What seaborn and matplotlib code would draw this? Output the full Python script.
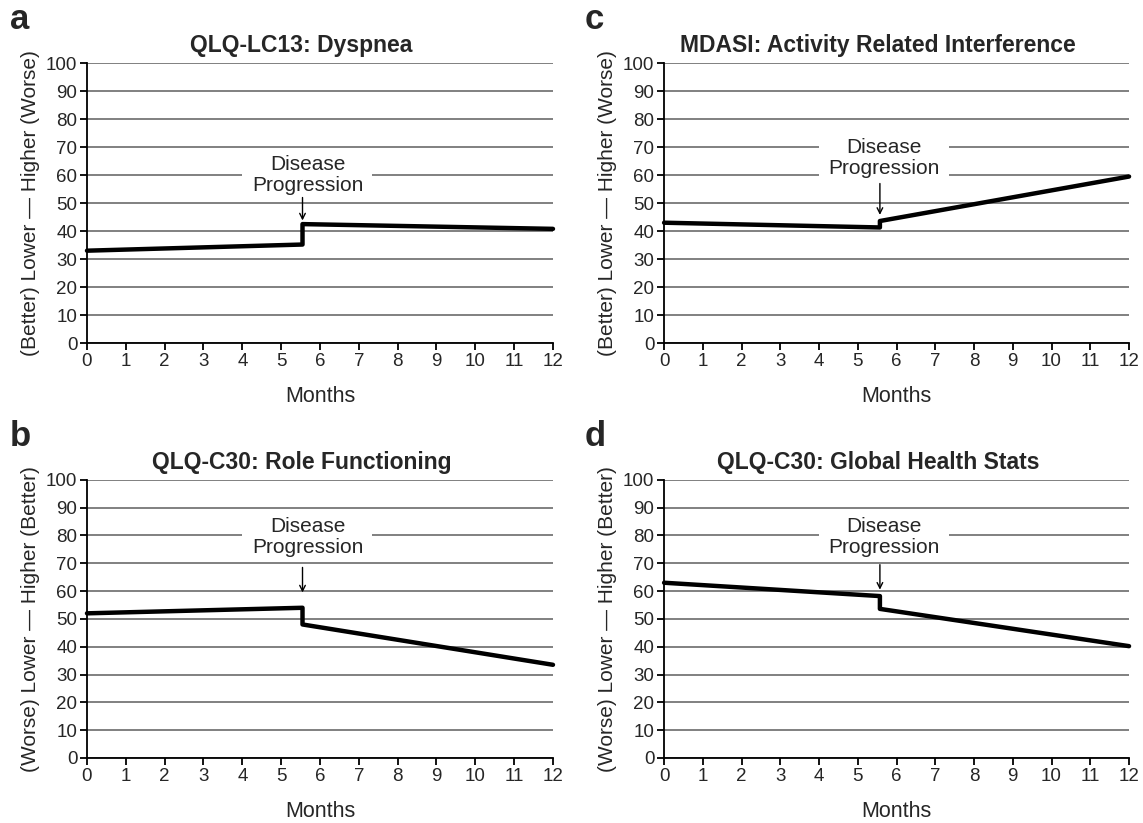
import numpy as np
import pandas as pd
import matplotlib.pyplot as plt
import seaborn as sns
from matplotlib.patches import Rectangle

sns.set_style('white')
plt.rcParams['font.family'] = ['Liberation Sans', 'DejaVu Sans']

# values
months_a = [0, 5.55, 5.55, 12]
dyspnea = [33, 35.2, 42.5, 40.8]

months_c = [0, 5.57, 5.57, 12]
activity = [43, 41.3, 43.6, 59.5]

months_b = [0, 5.55, 5.55, 12]
role = [52, 54, 48, 33.5]

months_d = [0, 5.57, 5.57, 12]
global_health = [63, 58.2, 53.6, 40.2]

titles = ['QLQ-LC13: Dyspnea', 'MDASI: Activity Related Interference',
          'QLQ-C30: Role Functioning', 'QLQ-C30: Global Health Stats']
letters = ['a', 'c', 'b', 'd']
ylabels = ['(Better) Lower \u2014 Higher (Worse)', '(Better) Lower \u2014 Higher (Worse)',
           '(Worse) Lower \u2014 Higher (Better)', '(Worse) Lower \u2014 Higher (Better)']

# label text y, arrow start/end, white box range
label_y = [60, 66, 79.5, 79.5]
arrow_from = [52, 57, 68.5, 69.5]
arrow_to = [43.8, 45.8, 59.5, 60.5]
box_rng = [(52.5, 68), (56.5, 76), (71.5, 88), (71.5, 88)]

series = [(months_a, dyspnea), (months_c, activity), (months_b, role), (months_d, global_health)]

fig = plt.figure(figsize=(11.43, 8.23), dpi=100)
rects = [[0.0761, 0.5832, 0.4077, 0.340],
         [0.581, 0.5832, 0.4068, 0.340],
         [0.0761, 0.079, 0.4077, 0.338],
         [0.581, 0.079, 0.4068, 0.338]]

for i in range(4):
    ax = fig.add_axes(rects[i])
    x, y = series[i]
    df = pd.DataFrame({'Months': x, 'Score': y})
    sns.lineplot(data=df, x='Months', y='Score', sort=False, estimator=None,
                 color='black', linewidth=3.2, ax=ax, clip_on=False, zorder=3)

    ax.set_xlim(0, 12)
    ax.set_ylim(0, 100)
    ax.set_xticks(range(0, 13))
    ax.set_yticks(range(0, 101, 10))
    ax.yaxis.grid(True, color='#5e5e5e', linewidth=1.1)
    ax.xaxis.grid(False)
    ax.set_axisbelow(True)
    for s in ['top', 'right']:
        ax.spines[s].set_visible(False)
    for s in ['left', 'bottom']:
        ax.spines[s].set_color('black')
        ax.spines[s].set_linewidth(1.3)
    ax.tick_params(direction='out', length=5, width=1.3, color='black',
                   labelsize=13.5, pad=2, left=True, bottom=True)

    ax.set_xlabel('Months', fontsize=15.5, labelpad=12)
    ax.set_ylabel(ylabels[i], fontsize=15, labelpad=4)
    ax.set_title(titles[i], fontsize=16.5, fontweight='bold', x=0.46, pad=8,
                 family=['Liberation Sans Narrow', 'Liberation Sans'])
    ax.text(-0.165 if i % 2 == 0 else -0.17, 1.215, letters[i], transform=ax.transAxes,
            fontsize=25, fontweight='bold', va='top', ha='left')

    lo, hi = box_rng[i]
    ax.add_patch(Rectangle((4.0, lo), 3.35, hi - lo, facecolor='white',
                           edgecolor='none', zorder=1))
    ax.text(5.68, label_y[i], 'Disease\nProgression', ha='center', va='center',
            fontsize=15, linespacing=1.15, zorder=4)
    ax.annotate('', xy=(x[1], arrow_to[i]), xytext=(x[1], arrow_from[i]),
                arrowprops=dict(arrowstyle='->', color='black', lw=1.0,
                                shrinkA=0, shrinkB=0), zorder=4)

fig.savefig('out.png', dpi=100)
